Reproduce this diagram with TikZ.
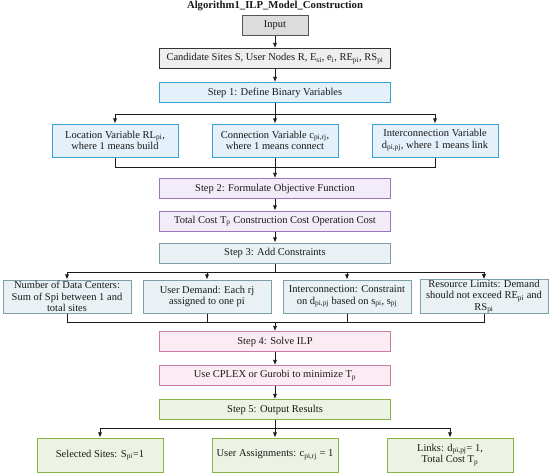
\documentclass[tikz,border=0pt]{standalone}
\usepackage{fontspec}
\setmainfont{Liberation Serif}
\usetikzlibrary{arrows.meta,positioning,calc}
\definecolor{ink}{HTML}{1A1A1A}
\definecolor{inputline}{HTML}{555555}
\definecolor{inputfill}{HTML}{DCDCDC}
\definecolor{dataline}{HTML}{333333}
\definecolor{datafill}{HTML}{EEEEEE}
\definecolor{var}{HTML}{3AA2D4}
\definecolor{varfill}{HTML}{E4F1FA}
\definecolor{obj}{HTML}{9C74C0}
\definecolor{objfill}{HTML}{F2ECF8}
\definecolor{cons}{HTML}{7C9FA8}
\definecolor{consfill}{HTML}{E9F1F4}
\definecolor{solve}{HTML}{CC7BA6}
\definecolor{solvefill}{HTML}{FBEBF3}
\definecolor{result}{HTML}{86B343}
\definecolor{resultfill}{HTML}{ECF3E4}
\tikzset{
  box/.style={line width=1pt,text=ink,inner sep=0pt,align=center,
    font=\fontsize{10.5}{11.5}\selectfont},
  widebox/.style={box,minimum width=231pt,minimum height=20pt},
  smallbox/.style={box,minimum width=126pt,minimum height=33pt},
  inputbox/.style={box,draw=inputline,fill=inputfill,minimum width=66pt,minimum height=20pt},
  databox/.style={widebox,draw=dataline,fill=datafill},
  varstep/.style={widebox,draw=var,fill=varfill},
  varbox/.style={smallbox,draw=var,fill=varfill},
  objstep/.style={widebox,draw=obj,fill=objfill},
  consstep/.style={widebox,draw=cons,fill=consfill},
  consbox/.style={smallbox,minimum width=128pt,draw=cons,fill=consfill},
  solvestep/.style={widebox,draw=solve,fill=solvefill},
  resultstep/.style={widebox,draw=result,fill=resultfill},
  resultbox/.style={smallbox,minimum height=34pt,draw=result,fill=resultfill},
  arrow/.style={-{Latex[length=1.8mm,width=1.5mm]},line width=.8pt,draw=ink},
  link/.style={line width=.8pt,draw=ink}
}
\begin{document}
\begin{tikzpicture}[x=1pt,y=-1pt]
\useasboundingbox (0,0) rectangle (550,475);
\node[font=\bfseries\fontsize{10.7}{12}\selectfont,text=ink] (title) at (275,6)
  {Algorithm1\_ILP\_Model\_Construction};

% Input and data
\node[inputbox] (input) at (275,25) {Input};
\node[databox] (data) at (275,58.5)
  {Candidate Sites S, User Nodes R, E\textsubscript{si}, e\textsubscript{i}, RE\textsubscript{pi}, RS\textsubscript{pi}};
\draw[arrow] (input.south) -- (data.north);

% Step 1: binary variables
\node[varstep] (step1) at (275,92.5) {Step 1: Define Binary Variables};
\draw[arrow] (data.south) -- (step1.north);

\node[varbox] (locvar) at (115,140.5)
  {Location Variable RL\textsubscript{pi},\\ where 1 means build};
\node[varbox] (convar) at (275,140.5)
  {Connection Variable c\textsubscript{pi,rj},\\ where 1 means connect};
\node[varbox] (intvar) at (435,140.5)
  {Interconnection Variable\\ d\textsubscript{pi,pj}, where 1 means link};

\coordinate (split1) at (275,114);
\coordinate (join1) at (275,167);
\draw[link] (step1.south) -- (split1);
\draw[arrow] (split1) -| (locvar.north);
\draw[arrow] (split1) -- (convar.north);
\draw[arrow] (split1) -| (intvar.north);

% Step 2: objective
\node[objstep] (step2) at (275,188.5) {Step 2: Formulate Objective Function};
\node[objstep] (cost) at (275,221)
  {Total Cost T\textsubscript{p} Construction Cost Operation Cost};
\draw[link] (locvar.south) |- (join1);
\draw[link] (intvar.south) |- (join1);
\draw[arrow] (convar.south) -- (step2.north);
\draw[arrow] (step2.south) -- (cost.north);

% Step 3: constraints
\node[consstep] (step3) at (275,253) {Step 3: Add Constraints};
\draw[arrow] (cost.south) -- (step3.north);

\node[consbox] (numdc) at (67,296.5)
  {Number of Data Centers:\\ Sum of Spi between 1 and\\ total sites};
\node[consbox] (demand) at (207,296.5)
  {User Demand: Each rj\\ assigned to one pi};
\node[consbox] (intercon) at (347,296.5)
  {Interconnection: Constraint\\ on d\textsubscript{pi,pj} based on s\textsubscript{pi}, s\textsubscript{pj}};
\node[consbox] (limits) at (484,296.5)
  {Resource Limits: Demand\\ should not exceed RE\textsubscript{pi} and\\ RS\textsubscript{pi}};

\coordinate (split3) at (275,272);
\coordinate (join3) at (275,322);
\draw[link] (step3.south) -- (split3);
\foreach \c in {numdc,demand,intercon,limits}
  \draw[arrow] (split3) -| (\c.north);
\foreach \c in {numdc,demand,intercon,limits}
  \draw[link] (\c.south) |- (join3);

% Step 4: solve
\node[solvestep] (step4) at (275,341.5) {Step 4: Solve ILP};
\node[solvestep] (solver) at (275,375.5) {Use CPLEX or Gurobi to minimize T\textsubscript{p}};
\draw[arrow] (join3) -- (step4.north);
\draw[arrow] (step4.south) -- (solver.north);

% Step 5: results
\node[resultstep] (step5) at (275,409.5) {Step 5: Output Results};
\draw[arrow] (solver.south) -- (step5.north);

\node[resultbox] (sites) at (100,455) {Selected Sites: S\textsubscript{pi}=1};
\node[resultbox] (assign) at (275,455) {User Assignments: c\textsubscript{pi,rj} = 1};
\node[resultbox] (links) at (450,455) {Links: d\textsubscript{pi,pj}= 1,\\ Total Cost T\textsubscript{p}};

\coordinate (split5) at (275,428);
\draw[link] (step5.south) -- (split5);
\draw[arrow] (split5) -| (sites.north);
\draw[arrow] (split5) -- (assign.north);
\draw[arrow] (split5) -| (links.north);

\end{tikzpicture}
\end{document}
